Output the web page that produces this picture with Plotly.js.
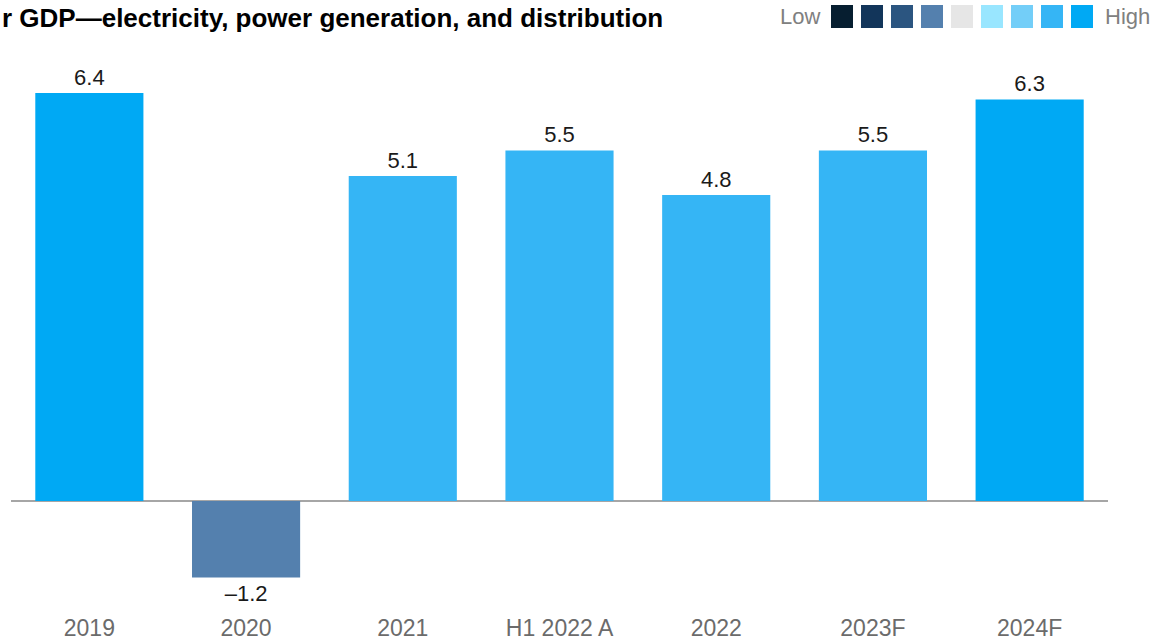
<!DOCTYPE html>
<html>
<head>
<meta charset="utf-8">
<script src="https://cdn.plot.ly/plotly-3.0.1.min.js"></script>
<style>html,body{margin:0;padding:0;background:#fff;}#chart{width:1153px;height:642px;}</style>
</head>
<body>
<div id="chart"></div>
<script>
const categories = ["2019", "2020", "2021", "H1 2022 A", "2022", "2023F", "2024F"];
const values = [6.4, -1.2, 5.1, 5.5, 4.8, 5.5, 6.3];
const barColors = ["#00A9F4", "#5480AE", "#35B5F5", "#35B5F5", "#35B5F5", "#35B5F5", "#00A9F4"];
const scaleColors = ["#061E30", "#12355A", "#2B5580", "#5480AE", "#E6E6E6", "#99E6FF", "#73CEF8", "#35B5F5", "#00A9F4"];
const titleText = "r GDP—electricity, power generation, and distribution";

const labels = values.map(v => (v < 0 ? "\u2013" : "") + Math.abs(v).toFixed(1));
const FONT = "Liberation Sans, Arial, sans-serif";
const W = 1153, H = 642;
const mL = 11, mR = 45, mT = 60, mB = 30;
const pw = W - mL - mR, ph = H - mT - mB;

const shapes = [];
const annotations = [];
// title (pixel y ~18 from top)
annotations.push({xref: "paper", yref: "paper", x: (0 - mL) / pw, y: 1 + (mT - 18) / ph,
  text: "<b>" + titleText + "</b>",
  showarrow: false, xanchor: "left", yanchor: "middle", font: {family: FONT, size: 26, color: "#000"}});
// legend scale
const sq = 22, sp = 30, x0 = 831, yTop = 5;
scaleColors.forEach((c, i) => {
  const px = x0 + i * sp;
  shapes.push({type: "rect", xref: "paper", yref: "paper",
    x0: (px - mL) / pw, x1: (px + sq - mL) / pw,
    y0: 1 + (mT - yTop - 23) / ph, y1: 1 + (mT - yTop) / ph,
    fillcolor: c, line: {width: 0}});
});
annotations.push({xref: "paper", yref: "paper", x: (822 - mL) / pw, y: 1 + (mT - 17) / ph, text: "Low",
  showarrow: false, xanchor: "right", yanchor: "middle", font: {family: FONT, size: 22, color: "#808080"}});
annotations.push({xref: "paper", yref: "paper", x: (1103 - mL) / pw, y: 1 + (mT - 17) / ph, text: "High",
  showarrow: false, xanchor: "left", yanchor: "middle", font: {family: FONT, size: 22, color: "#808080"}});

const ppu = 63.75;
const yMax = (501 - mT) / ppu;
const yMin = -((H - mB) - 501) / ppu;

Plotly.newPlot("chart", [{
  type: "bar",
  x: categories,
  y: values,
  marker: {color: barColors},
  width: 0.69,
  text: labels,
  textposition: "outside",
  cliponaxis: false,
  textfont: {family: FONT, size: 22, color: "#1a1a1a"},
  hoverinfo: "none"
}], {
  width: W, height: H,
  margin: {l: mL, r: mR, t: mT, b: mB},
  paper_bgcolor: "#fff", plot_bgcolor: "#fff",
  showlegend: false,
  xaxis: {type: "category", range: [-0.5, 6.5], showgrid: false, showline: false, ticks: "",
    tickfont: {family: FONT, size: 23, color: "#6b6b6b"}, fixedrange: true},
  yaxis: {range: [yMin, yMax], showgrid: false, showticklabels: false, zeroline: true,
    zerolinecolor: "#a6a6a6", zerolinewidth: 1.5, fixedrange: true},
  shapes: shapes,
  annotations: annotations
}, {displayModeBar: false, staticPlot: true});
</script>
</body>
</html>
